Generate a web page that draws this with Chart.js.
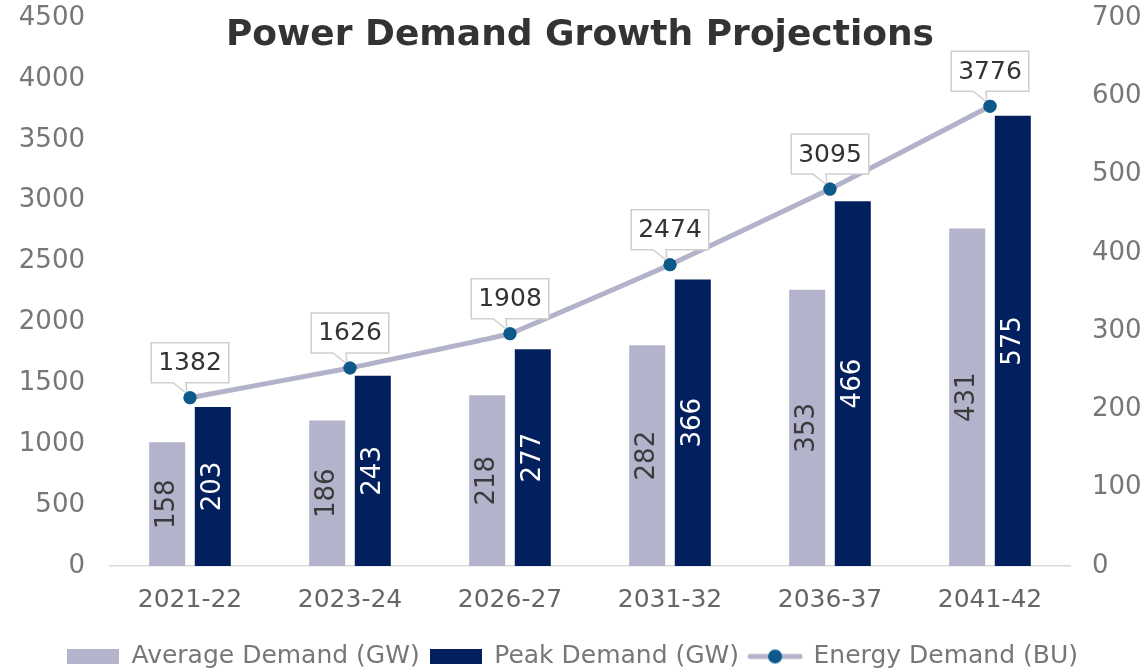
<!DOCTYPE html>
<html>
<head>
<meta charset="utf-8">
<script src="https://cdn.jsdelivr.net/npm/chart.js@4"></script>
<style>
  html, body { margin: 0; padding: 0; background: #ffffff; }
  #wrap { width: 1145px; height: 671px; }
</style>
</head>
<body>
<div id="wrap"><canvas id="c" width="1145" height="671"></canvas></div>
<script>
const categories = ['2021-22', '2023-24', '2026-27', '2031-32', '2036-37', '2041-42'];
const averageDemandGW = [158, 186, 218, 282, 353, 431];
const peakDemandGW = [203, 243, 277, 366, 466, 575];
const energyDemandBU = [1382, 1626, 1908, 2474, 3095, 3776];
const seriesNames = ['Average Demand (GW)', 'Peak Demand (GW)', 'Energy Demand (BU)'];
const leftAxisMax = 4500, leftAxisStep = 500;
const rightAxisMax = 700, rightAxisStep = 100;
const chartTitle = 'Power Demand Growth Projections';

const COL_AVG = '#b3b3cb';
const COL_PEAK = '#03205e';
const COL_LINE = '#b2b2cb';
const COL_POINT = '#0d5a8a';
const FONT = '"DejaVu Sans", sans-serif';

function makeImg(w, h, draw) {
  const c = document.createElement('canvas');
  c.width = w; c.height = h;
  draw(c.getContext('2d'), w, h);
  return c;
}
const legendAvg = makeImg(52, 15, (g, w, h) => { g.fillStyle = COL_AVG; g.fillRect(0, 0, w, h); });
const legendPeak = makeImg(52, 15, (g, w, h) => { g.fillStyle = COL_PEAK; g.fillRect(0, 0, w, h); });
const legendLine = makeImg(56, 18, (g, w, h) => {
  g.strokeStyle = COL_LINE; g.lineWidth = 5; g.lineCap = 'round';
  g.beginPath(); g.moveTo(3, h / 2); g.lineTo(w - 3, h / 2); g.stroke();
  g.fillStyle = COL_POINT; g.beginPath(); g.arc(w / 2, h / 2, 7, 0, Math.PI * 2); g.fill();
});

const titlePlugin = {
  id: 'titleText',
  afterDraw(chart) {
    const ctx = chart.ctx;
    ctx.save();
    ctx.font = 'bold 36px ' + FONT;
    ctx.fillStyle = '#333333';
    ctx.textAlign = 'center';
    ctx.textBaseline = 'middle';
    ctx.fillText(chartTitle, 580, 36);
    ctx.restore();
  }
};

const labelPlugin = {
  id: 'valueLabels',
  afterDatasetsDraw(chart) {
    const ctx = chart.ctx;
    ctx.save();
    [0, 1].forEach(di => {
      const meta = chart.getDatasetMeta(di);
      const data = chart.data.datasets[di].data;
      meta.data.forEach((bar, i) => {
        const cy = (bar.y + bar.base) / 2;
        ctx.save();
        ctx.translate(bar.x, cy);
        ctx.rotate(-Math.PI / 2);
        ctx.font = '26px ' + FONT;
        ctx.fillStyle = di === 0 ? '#3a3a3a' : '#ffffff';
        ctx.textAlign = 'center';
        ctx.textBaseline = 'middle';
        ctx.fillText(String(data[i]), 0, 0);
        ctx.restore();
      });
    });
    const meta = chart.getDatasetMeta(2);
    const data = chart.data.datasets[2].data;
    ctx.font = '25px ' + FONT;
    meta.data.forEach((pt, i) => {
      const txt = String(data[i]);
      const tw = ctx.measureText(txt).width;
      const w = tw + 14, h = 40;
      const cx = pt.x;
      const bottom = pt.y - 15;
      const top = bottom - h;
      const left = cx - w / 2, right = cx + w / 2;
      ctx.beginPath();
      ctx.moveTo(left, top);
      ctx.lineTo(right, top);
      ctx.lineTo(right, bottom);
      ctx.lineTo(cx - 4, bottom);
      ctx.lineTo(pt.x - 3, pt.y - 4);
      ctx.lineTo(cx - 17, bottom);
      ctx.lineTo(left, bottom);
      ctx.closePath();
      ctx.fillStyle = '#ffffff';
      ctx.fill();
      ctx.strokeStyle = '#cfcfcf';
      ctx.lineWidth = 1.5;
      ctx.stroke();
      ctx.fillStyle = '#333333';
      ctx.textAlign = 'center';
      ctx.textBaseline = 'middle';
      ctx.fillText(txt, cx, top + h / 2 + 1);
      ctx.fillStyle = COL_POINT;
      ctx.beginPath();
      ctx.arc(pt.x, pt.y, 6.5, 0, Math.PI * 2);
      ctx.fill();
    });
    ctx.restore();
  }
};

const plainTick = v => String(v);

new Chart(document.getElementById('c'), {
  data: {
    labels: categories,
    datasets: [
      {
        type: 'bar', label: seriesNames[0], data: averageDemandGW, yAxisID: 'yR',
        backgroundColor: COL_AVG, barPercentage: 0.79, categoryPercentage: 0.57, order: 2
      },
      {
        type: 'bar', label: seriesNames[1], data: peakDemandGW, yAxisID: 'yR',
        backgroundColor: COL_PEAK, barPercentage: 0.79, categoryPercentage: 0.57, order: 2
      },
      {
        type: 'line', label: seriesNames[2], data: energyDemandBU, yAxisID: 'yL',
        borderColor: COL_LINE, borderWidth: 5, pointRadius: 6.5, pointBackgroundColor: COL_POINT,
        pointBorderWidth: 0, tension: 0.05, order: 1
      }
    ]
  },
  options: {
    responsive: false,
    animation: false,
    layout: { padding: { top: 18, bottom: -8, left: 0, right: 0 } },
    scales: {
      x: {
        grid: { display: false, drawTicks: false },
        border: { display: true, color: '#d9d9d9', width: 1.5 },
        ticks: { color: '#666666', font: { family: FONT, size: 25 }, padding: 19 },
        afterFit(s) { s.height = 68; }
      },
      yL: {
        position: 'left', min: 0, max: leftAxisMax,
        grid: { display: false, drawTicks: true, tickLength: 25 },
        border: { display: false },
        ticks: { stepSize: leftAxisStep, color: '#777777', font: { family: FONT, size: 26 }, padding: 0, callback: plainTick },
        afterFit(s) { s.width = 110; }
      },
      yR: {
        position: 'right', min: 0, max: rightAxisMax,
        grid: { display: false, drawTicks: true, tickLength: 22 },
        border: { display: false },
        ticks: { stepSize: rightAxisStep, color: '#777777', font: { family: FONT, size: 26 }, padding: 0, callback: plainTick },
        afterFit(s) { s.width = 75; }
      }
    },
    plugins: {
      tooltip: { enabled: false },
      legend: {
        position: 'bottom',
        labels: {
          usePointStyle: true,
          pointStyleWidth: 52,
          color: '#777777',
          font: { family: FONT, size: 25, lineHeight: 1 },
          padding: 10,
          generateLabels() {
            return [
              { text: seriesNames[0], pointStyle: legendAvg, datasetIndex: 0, fontColor: '#777777', lineWidth: 0 },
              { text: seriesNames[1], pointStyle: legendPeak, datasetIndex: 1, fontColor: '#777777', lineWidth: 0 },
              { text: seriesNames[2], pointStyle: legendLine, datasetIndex: 2, fontColor: '#777777', lineWidth: 0 }
            ];
          }
        }
      }
    }
  },
  plugins: [titlePlugin, labelPlugin]
});
</script>
</body>
</html>
